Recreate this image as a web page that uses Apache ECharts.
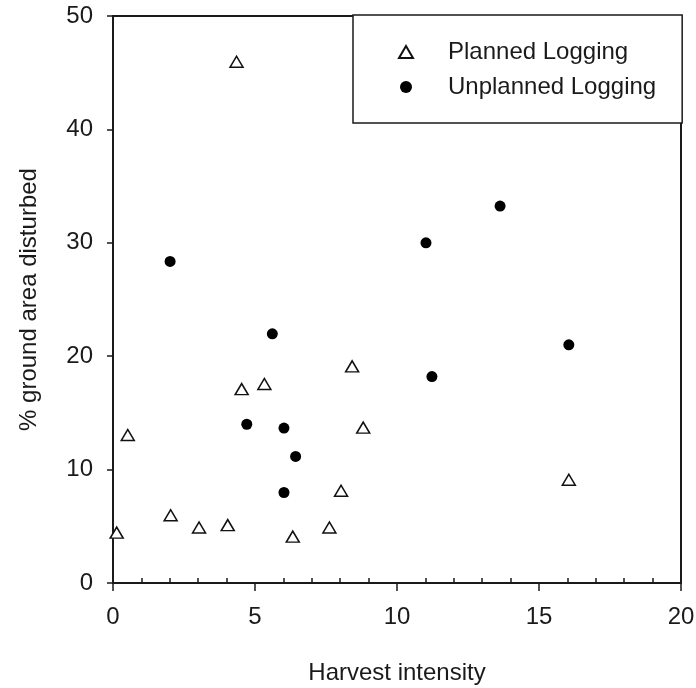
<!DOCTYPE html>
<html>
<head>
<meta charset="utf-8">
<script src="https://cdn.jsdelivr.net/npm/echarts@6/dist/echarts.min.js"></script>
<style>html,body{margin:0;padding:0;background:#fff;}#c{width:696px;height:688px;}</style>
</head>
<body>
<div id="c"></div>
<script>
var plannedX = [0.13, 0.52, 2.03, 3.03, 4.04, 4.35, 4.53, 5.33, 6.33, 7.62, 8.03, 8.42, 8.81, 16.05];
var plannedY = [4.44, 13.05, 5.98, 4.89, 5.1, 45.97, 17.1, 17.55, 4.09, 4.89, 8.13, 19.1, 13.7, 9.1];
var unplannedX = [2.01, 4.71, 5.61, 6.02, 6.02, 6.43, 11.02, 11.23, 13.63, 16.05];
var unplannedY = [28.36, 14.0, 21.97, 13.66, 7.98, 11.16, 30.0, 18.2, 33.24, 21.0];
var seriesNames = ['Planned Logging', 'Unplanned Logging'];
var xMinorTicks = [1, 2, 3, 4, 6, 7, 8, 9, 11, 12, 13, 14, 16, 17, 18, 19];

function pairs(xs, ys) { return xs.map(function (x, i) { return [x, ys[i]]; }); }

var FONT = "'Liberation Sans', Arial, sans-serif";
var INK = '#1a1a1a';
var chart = echarts.init(document.getElementById('c'), null, { renderer: 'canvas' });
chart.setOption({
  animation: false,
  backgroundColor: '#fff',
  textStyle: { fontFamily: FONT, color: INK },
  grid: {
    left: 113, right: 15, top: 16, bottom: 105,
    show: true, borderColor: INK, borderWidth: 2, backgroundColor: 'transparent',
    containLabel: false, outerBoundsMode: 'none'
  },
  legend: {
    orient: 'vertical',
    left: 353, top: 15,
    padding: [25, 26, 24, 45],
    itemGap: 11,
    itemWidth: 14, itemHeight: 12,
    borderColor: INK, borderWidth: 1.5,
    backgroundColor: '#fff',
    textStyle: { fontFamily: FONT, fontSize: 24, color: INK, padding: [0, 0, 0, 30] },
    data: [
      { name: seriesNames[0], icon: 'triangle' },
      { name: seriesNames[1], icon: 'circle' }
    ]
  },
  xAxis: [
    {
      type: 'value', min: 0, max: 20, interval: 5,
      name: 'Harvest intensity', nameLocation: 'middle', nameGap: 78,
      nameTextStyle: { fontFamily: FONT, fontSize: 24, color: INK },
      axisLine: { show: true, onZero: false, lineStyle: { color: INK, width: 2 } },
      axisTick: { show: true, inside: false, length: 8, lineStyle: { color: INK, width: 1.5 } },
      axisLabel: { fontFamily: FONT, fontSize: 24, color: INK, margin: 22 },
      splitLine: { show: false }
    },
    {
      type: 'value', min: 0, max: 20, interval: 1, position: 'bottom', offset: 0,
      axisLine: { show: false },
      axisTick: { show: true, inside: true, length: 5, customValues: xMinorTicks, lineStyle: { color: INK, width: 1.5 } },
      axisLabel: { show: false },
      splitLine: { show: false }
    }
  ],
  yAxis: {
    type: 'value', min: 0, max: 50, interval: 10,
    name: '% ground area disturbed', nameLocation: 'middle', nameGap: 72,
    nameTextStyle: { fontFamily: FONT, fontSize: 24, color: INK },
    axisLine: { show: true, onZero: false, lineStyle: { color: INK, width: 2 } },
    axisTick: { show: true, inside: false, length: 6, lineStyle: { color: INK, width: 1.5 } },
    axisLabel: { fontFamily: FONT, fontSize: 24, color: INK, margin: 20 },
    splitLine: { show: false }
  },
  series: [
    {
      name: seriesNames[0], type: 'scatter', xAxisIndex: 0, yAxisIndex: 0,
      symbol: 'triangle', symbolSize: [13, 11],
      itemStyle: { color: '#fff', borderColor: '#111', borderWidth: 1.5, opacity: 1 },
      data: pairs(plannedX, plannedY)
    },
    {
      name: seriesNames[1], type: 'scatter', xAxisIndex: 0, yAxisIndex: 0,
      symbol: 'circle', symbolSize: 11,
      itemStyle: { color: '#000', opacity: 1 },
      data: pairs(unplannedX, unplannedY)
    }
  ]
});
</script>
</body>
</html>
